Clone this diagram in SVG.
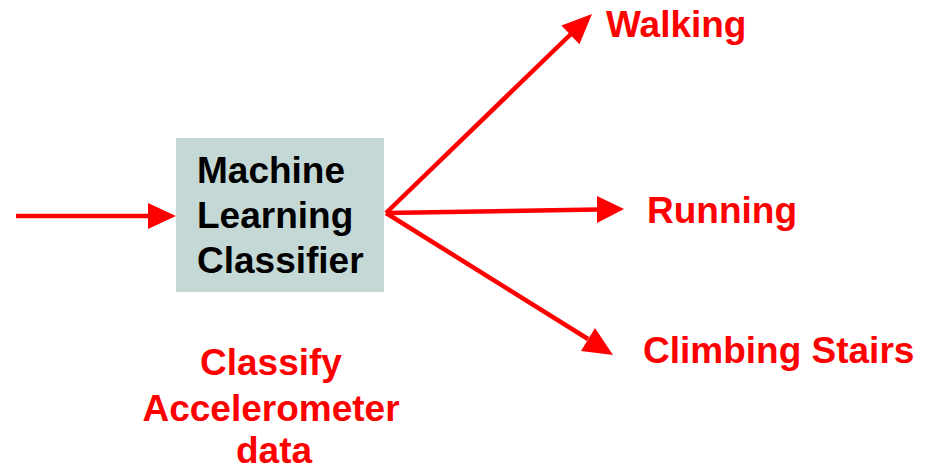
<svg xmlns="http://www.w3.org/2000/svg" width="932" height="471" viewBox="0 0 932 471">
<style>
.ln{stroke:#ff0000;stroke-width:4.5;fill:none}
.hd{fill:#ff0000}
.t{font-family:"Liberation Sans",Arial,sans-serif;font-weight:bold;font-size:37px}
.r{fill:#ff0000}
.k{fill:#000000}
</style>
<rect width="932" height="471" fill="#ffffff"/>
<g id="connectors">
<line class="ln" x1="16" y1="216" x2="152" y2="216"/>
<polygon class="hd" points="176,216 148,203 148,229"/>
<line class="ln" x1="386" y1="213" x2="572" y2="33"/>
<polygon class="hd" points="592,14 579.4,44.3 561.4,25.5"/>
<line class="ln" x1="386" y1="213" x2="598" y2="209.5"/>
<polygon class="hd" points="624,209 597,196 597,223"/>
<line class="ln" x1="386" y1="213" x2="588" y2="339"/>
<polygon class="hd" points="613,355 581,351 595,328"/>
</g>
<g id="classifier">
<rect x="176" y="138" width="208" height="154" fill="#c4d8d6"/>
<text class="t k" x="197" y="183">Machine</text>
<text class="t k" x="197" y="228">Learning</text>
<text class="t k" x="197" y="273">Classifier</text>
</g>
<g id="walking"><text class="t r" x="606" y="37">Walking</text></g>
<g id="running"><text class="t r" x="647" y="223">Running</text></g>
<g id="climbing"><text class="t r" x="643" y="363">Climbing Stairs</text></g>
<g id="caption">
<text class="t r" text-anchor="middle" x="271" y="375">Classify</text>
<text class="t r" text-anchor="middle" x="271" y="421">Accelerometer</text>
<text class="t r" text-anchor="middle" x="274" y="463">data</text>
</g>
</svg>
